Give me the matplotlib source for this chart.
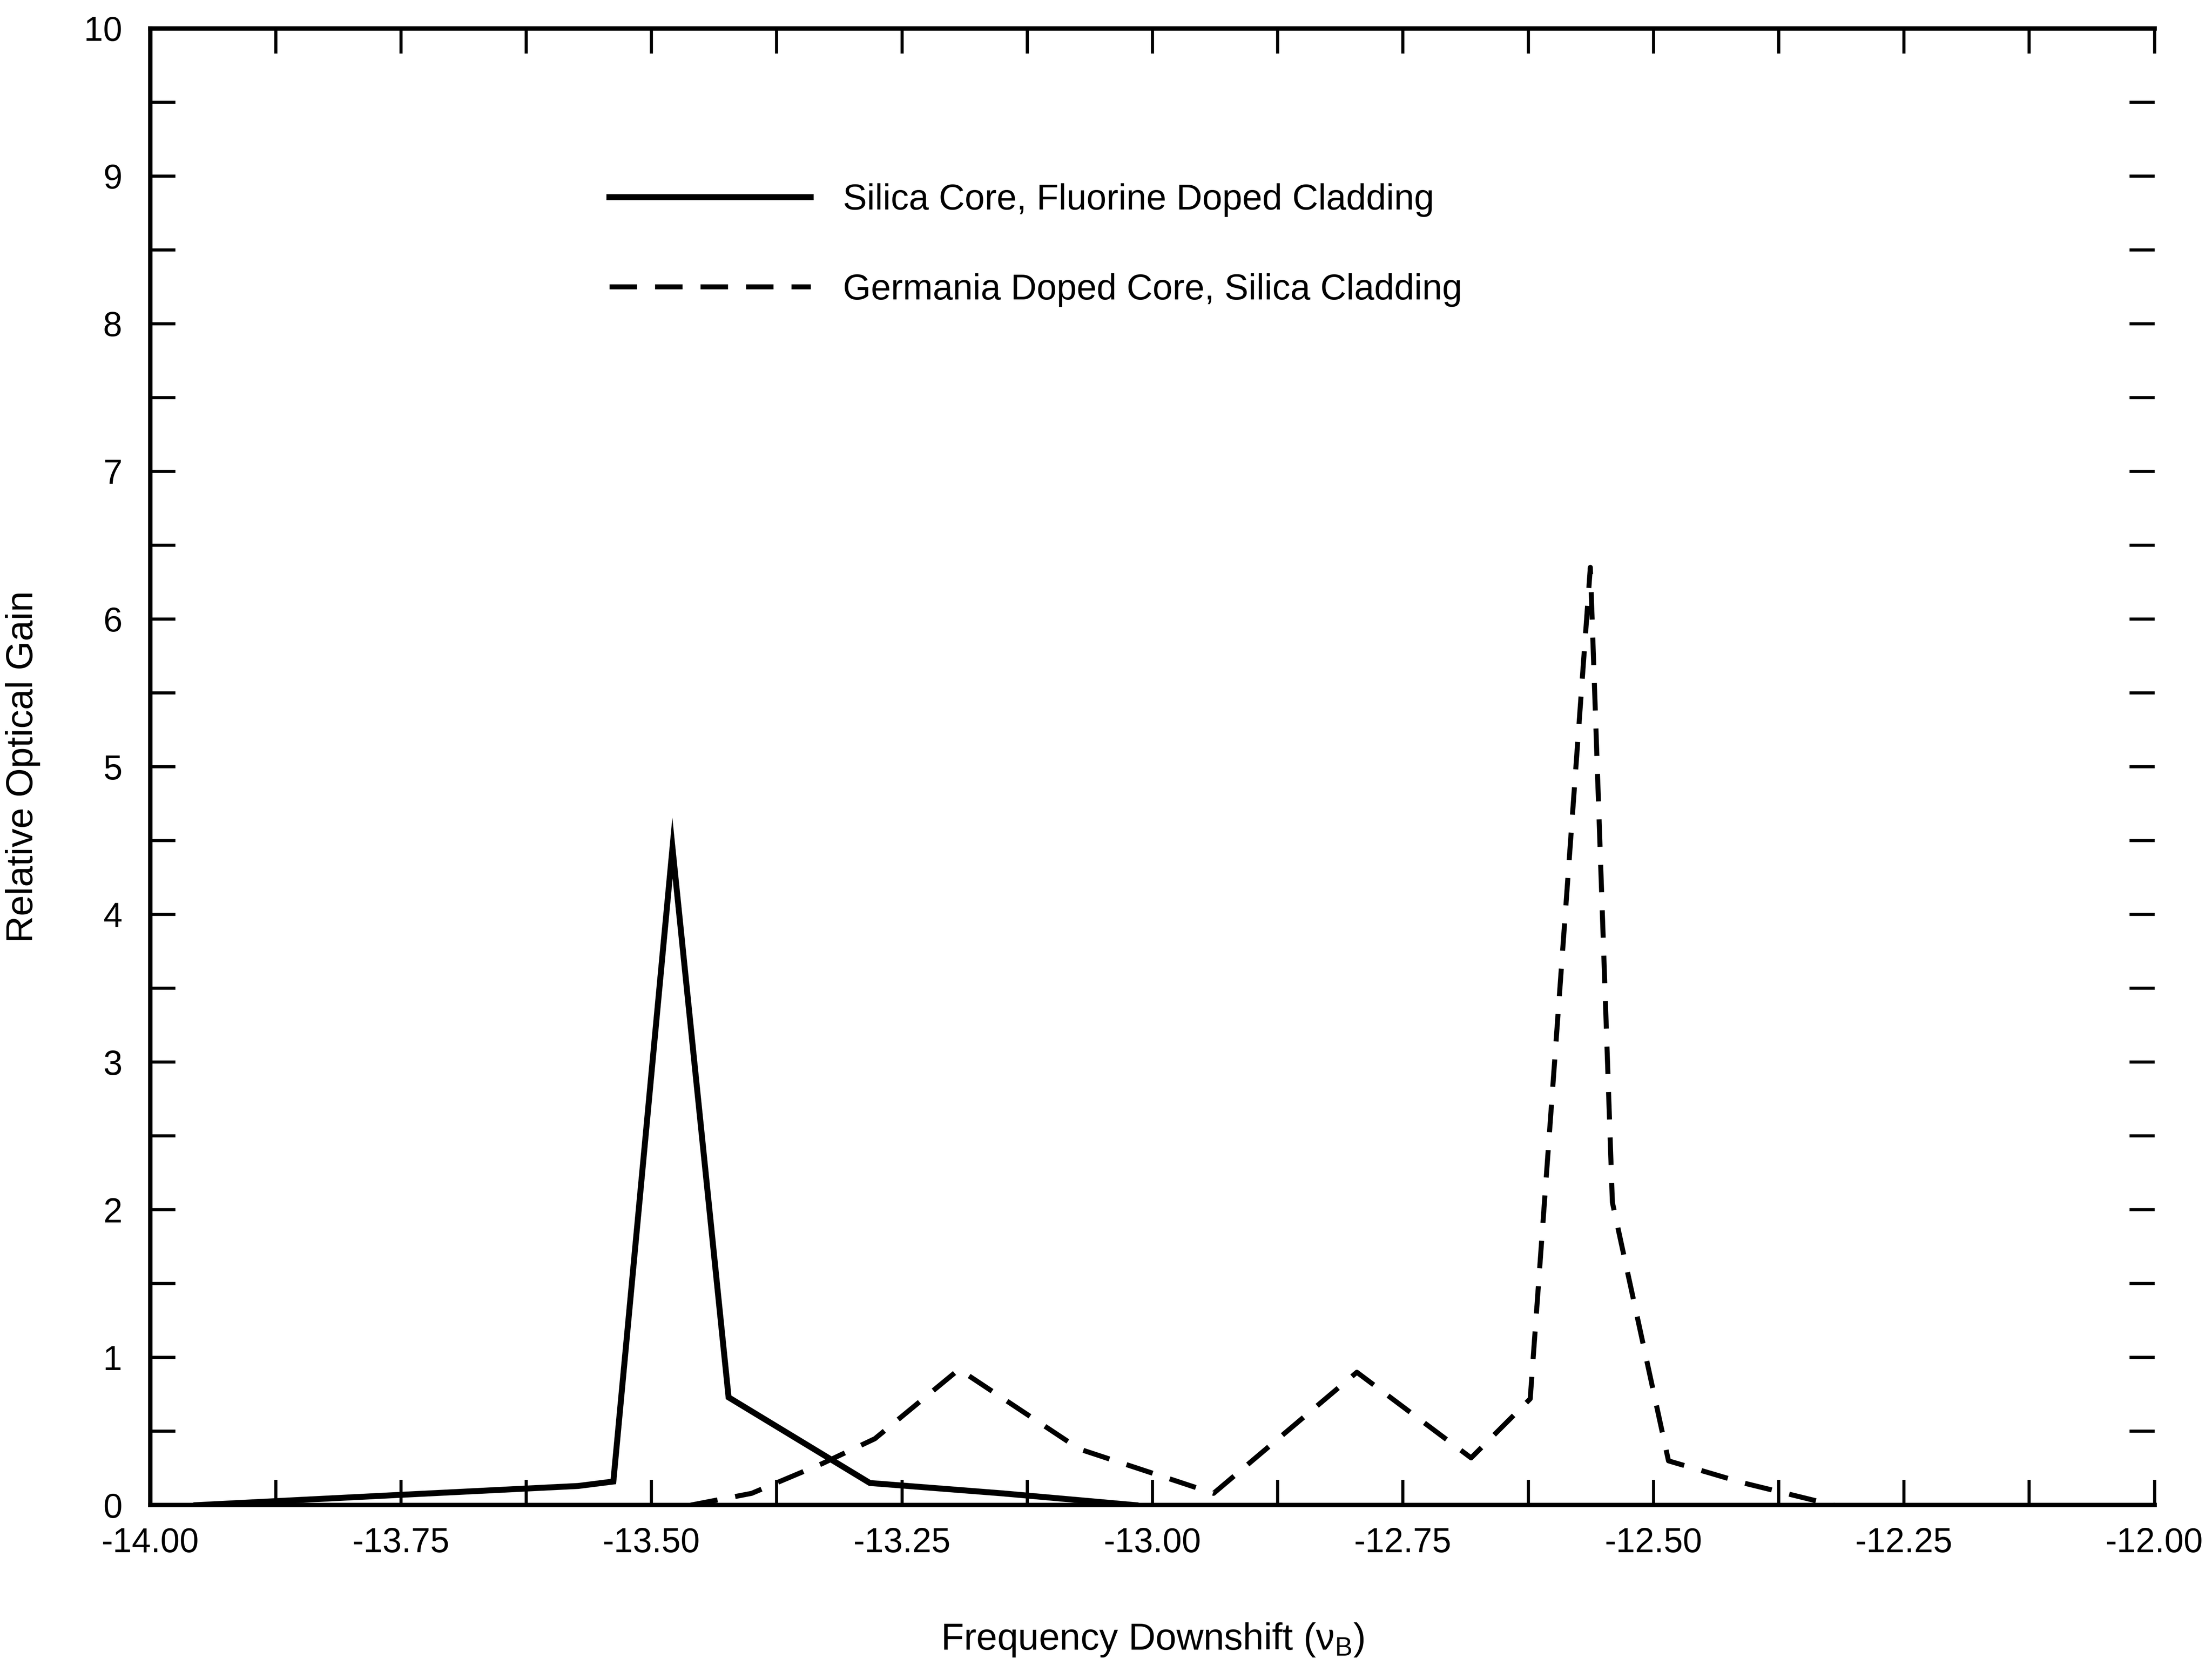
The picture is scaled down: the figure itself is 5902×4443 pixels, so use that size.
import matplotlib
matplotlib.use("Agg")
import matplotlib.pyplot as plt
from matplotlib.ticker import MultipleLocator, FormatStrFormatter

# ---- data ----
silica_x = [-13.954, -13.75, -13.573, -13.538, -13.479, -13.423, -13.282, -13.15, -13.017]
silica_y = [0.00, 0.07, 0.13, 0.16, 4.45, 0.73, 0.15, 0.08, 0.00]

germania_x = [-13.461, -13.40, -13.33, -13.277, -13.193, -13.073, -12.939, -12.796,
              -12.682, -12.623, -12.563, -12.541, -12.485, -12.41, -12.320]
germania_y = [0.00, 0.08, 0.28, 0.45, 0.92, 0.38, 0.08, 0.90,
              0.32, 0.72, 6.35, 2.05, 0.30, 0.15, 0.00]

label_silica = "Silica Core, Fluorine Doped Cladding"
label_germania = "Germania Doped Core, Silica Cladding"

plt.rcParams['font.family'] = ['Liberation Sans', 'DejaVu Sans']
plt.rcParams['mathtext.fontset'] = 'custom'
plt.rcParams['mathtext.rm'] = 'Liberation Sans'

fig = plt.figure(figsize=(5902 / 300, 4443 / 300), dpi=300)
ax = fig.add_axes([0.068, 0.096, 0.906, 0.887])

ax.plot(silica_x, silica_y, color='black', lw=3.8, solid_joinstyle='miter',
        label=label_silica)
ax.plot(germania_x, germania_y, color='black', lw=3.2, linestyle=(0, (5.5, 3.6)),
        label=label_germania)

ax.set_xlim(-14.0, -12.0)
ax.set_ylim(0, 10)
ax.xaxis.set_major_locator(MultipleLocator(0.25))
ax.xaxis.set_minor_locator(MultipleLocator(0.125))
ax.yaxis.set_major_locator(MultipleLocator(1))
ax.yaxis.set_minor_locator(MultipleLocator(0.5))
ax.xaxis.set_major_formatter(FormatStrFormatter('%.2f'))

ax.tick_params(which='both', direction='in', top=True, right=True,
               labelsize=22, width=2)
ax.tick_params(axis='x', pad=14)
ax.tick_params(axis='y', pad=18)
ax.tick_params(which='major', length=16)
ax.tick_params(which='minor', length=16)

for s in ['left', 'bottom', 'top']:
    ax.spines[s].set_linewidth(2.8)
ax.spines['right'].set_visible(False)

ax.set_xlabel("Frequency Downshift (\u03bd$_\\mathregular{B}$)", fontsize=24, labelpad=40)
ax.set_ylabel("Relative Optical Gain", fontsize=24, labelpad=28)

leg = ax.legend(loc='upper left', bbox_to_anchor=(0.229, 0.895), frameon=False,
                fontsize=23, handlelength=5.6, handletextpad=0.9,
                labelspacing=1.56, borderpad=0, borderaxespad=0)

fig.savefig("out.png", dpi=300, facecolor='white')
